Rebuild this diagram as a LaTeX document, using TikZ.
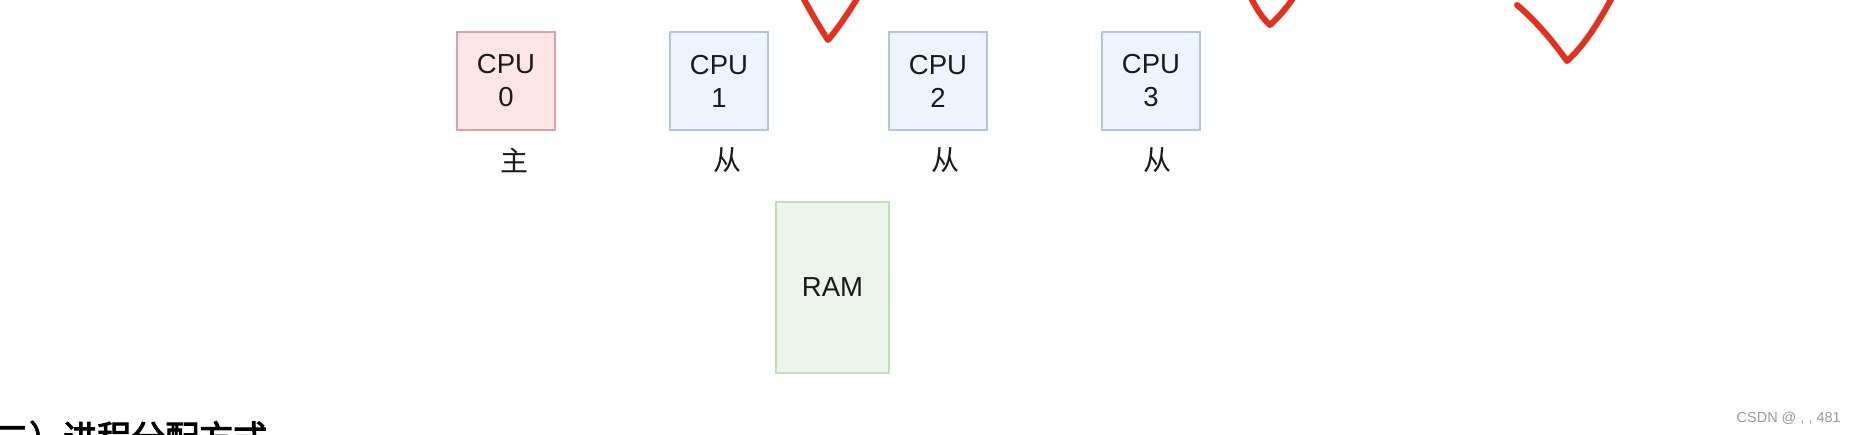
\documentclass[tikz,border=0pt]{standalone}
\usepackage{fontspec}
\setmainfont{Liberation Sans}
\newfontfamily\cjk{Noto Sans CJK SC}
\newfontfamily\cjkb[AutoFakeBold=3]{Noto Sans CJK SC}
\definecolor{redfill}{HTML}{FDE5E5}
\definecolor{reddraw}{HTML}{D9A3A6}
\definecolor{bluefill}{HTML}{EEF4FD}
\definecolor{bluedraw}{HTML}{B3C5E3}
\definecolor{greenfill}{HTML}{EDF4EB}
\definecolor{greendraw}{HTML}{C3DDB7}
\definecolor{checkred}{HTML}{E2321F}
\definecolor{txt}{HTML}{1A1A1A}
\tikzset{
  cpubox/.style={draw=bluedraw, fill=bluefill, line width=2.5pt, minimum width=98pt, minimum height=98pt, inner sep=0pt, align=center, text=txt, font=\fontsize{27.5}{33}\selectfont},
  mainbox/.style={cpubox, draw=reddraw, fill=redfill},
  rambox/.style={cpubox, draw=greendraw, fill=greenfill, minimum width=113pt, minimum height=171pt},
  role/.style={inner sep=0pt, text=txt, font=\cjk\fontsize{28}{30}\selectfont},
  tick/.style={draw=checkred, line width=6pt, line cap=round, line join=round}
}
\begin{document}
\begin{tikzpicture}[x=1pt,y=-1pt]
\useasboundingbox (0,0) rectangle (1856,434);
\clip (0,0) rectangle (1856,434);
\fill[white] (0,0) rectangle (1856,434);
% check marks
\draw[tick] (801,-6) .. controls (812,14) and (820,28) .. (828,40) .. controls (840,26) and (850,10) .. (860,-6);
\draw[tick] (1249,-6) .. controls (1256,8) and (1262,18) .. (1270,25) .. controls (1280,16) and (1288,6) .. (1296,-6);
\draw[tick] (1517,5) .. controls (1535,20) and (1552,40) .. (1567,61) .. controls (1585,45) and (1600,20) .. (1614,-6);
% CPUs
\node[mainbox] (cpu0) at (506,81) {CPU\\0};
\node[cpubox] (cpu1) at (719,81) {CPU\\1};
\node[cpubox] (cpu2) at (938,81) {CPU\\2};
\node[cpubox] (cpu3) at (1151,81) {CPU\\3};
\node[role] (r0) at (514,160) {主};
\node[role] (r1) at (727,160) {从};
\node[role] (r2) at (945,160) {从};
\node[role] (r3) at (1157,160) {从};
\node[rambox] (ram) at (832.5,287.5) {RAM};
% heading (cut off at the bottom edge, as in the reference)
\node[anchor=base west, inner sep=0pt, text=black, font=\cjkb\bfseries\fontsize{34}{36}\selectfont] (head) at (-5,450) {二）进程分配方式};
% watermark
\node[anchor=east, inner sep=0pt, text=black!40, font=\fontsize{14.5}{16}\selectfont] (wm) at (1841,418) {CSDN @ , , 481};
\end{tikzpicture}
\end{document}
